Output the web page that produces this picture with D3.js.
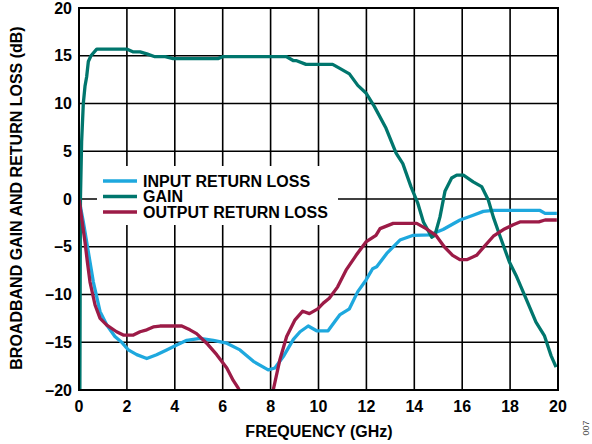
<!DOCTYPE html>
<html>
<head>
<meta charset="utf-8">
<script src="https://cdn.jsdelivr.net/npm/d3@7"></script>
<style>
  body { margin: 0; background: #fff; }
  text { font-family: "Liberation Sans", Arial, sans-serif; font-weight: bold; }
</style>
</head>
<body>
<div id="chart"></div>
<script>
// axis ticks
var xTicks = [0, 2, 4, 6, 8, 10, 12, 14, 16, 18, 20];
var yTicks = [20, 15, 10, 5, 0, -5, -10, -15, -20];

// series, [GHz, dB]
var inputReturnLoss = [[0,0],[0.18,-2.4],[0.46,-6.6],[0.6,-8.7],[0.88,-11.8],[1.16,-13.2],[1.5,-14.4],[1.78,-15.0],[2.06,-15.8],
  [2.41,-16.3],[2.83,-16.7],[3.24,-16.3],[3.66,-15.8],[4.08,-15.3],[4.5,-14.8],[5.05,-14.6],[5.61,-14.8],[6.17,-15.1],
  [6.72,-15.8],[7.28,-17.0],[7.9,-17.9],[8.18,-17.7],[8.53,-16.5],[8.95,-14.7],[9.23,-13.9],[9.57,-13.3],[9.92,-13.8],
  [10.4,-13.8],[10.69,-12.8],[10.9,-12.1],[11.29,-11.5],[11.64,-9.7],[11.98,-8.5],[12.26,-7.3],[12.43,-7.1],[12.85,-5.7],
  [13.4,-4.3],[13.96,-3.8],[14.66,-3.75],[15.2,-3.2],[15.91,-2.2],[16.46,-1.7],[16.88,-1.3],[17.3,-1.2],[19.25,-1.2],
  [19.46,-1.5],[19.95,-1.5]];

var gain = [[0.03,-25],[0.06,0],[0.11,6],[0.18,10],[0.25,11.8],[0.32,12.8],[0.39,14.4],[0.5,15.0],[0.74,15.7],[1.99,15.7],
  [2.27,15.4],[2.55,15.4],[2.83,15.2],[3.17,14.9],[3.6,14.9],[3.93,14.7],[5.8,14.7],[6.0,14.9],[8.67,14.9],[8.94,14.5],
  [9.06,14.5],[9.48,14.1],[10.59,14.1],[10.87,13.7],[11.29,13.1],[11.64,11.9],[11.98,11.1],[12.33,9.7],[12.82,7.4],
  [13.24,4.8],[13.52,3.7],[13.86,1.3],[14.14,-0.4],[14.38,-2.4],[14.73,-4.0],[14.86,-3.8],[15.07,-1.9],[15.28,0.8],
  [15.56,2.2],[15.77,2.5],[16.05,2.5],[16.46,1.8],[16.81,1.3],[17.09,-0.1],[17.3,-1.9],[17.58,-3.9],[17.97,-6.6],
  [18.25,-8.0],[18.66,-10.4],[19.08,-12.9],[19.43,-14.3],[19.71,-16.4],[19.92,-17.6]];

var outputReturnLoss = [[0,0],[0.25,-4.5],[0.35,-6.6],[0.46,-8.7],[0.67,-11.1],[0.88,-12.5],[1.16,-13.2],[1.57,-13.9],
  [1.85,-14.25],[2.27,-14.25],[2.55,-13.9],[2.83,-13.7],[3.1,-13.4],[3.38,-13.3],[4.29,-13.3],[4.63,-13.7],[4.91,-14.1],
  [5.33,-15.1],[5.75,-16.3],[6.17,-17.7],[6.44,-19.0],[6.65,-19.8],[7.0,-22],[7.5,-24],[8.0,-22],[8.11,-20],[8.39,-16.8],
  [8.67,-14.4],[9.02,-12.65],[9.34,-11.75],[9.62,-12.0],[9.97,-11.5],[10.2,-10.9],[10.45,-10.4],[10.8,-9.2],[11.15,-7.45],
  [11.57,-5.9],[11.98,-4.5],[12.4,-3.8],[12.57,-3.1],[13.12,-2.55],[14.1,-2.55],[14.49,-3.1],[14.9,-3.8],[15.25,-5.0],
  [15.6,-5.9],[15.9,-6.35],[16.19,-6.35],[16.6,-5.9],[16.88,-5.1],[17.3,-3.9],[17.72,-3.2],[18.13,-2.7],[18.41,-2.4],
  [19.2,-2.4],[19.46,-2.2],[19.95,-2.2]];

var seriesNames = ["INPUT RETURN LOSS", "GAIN", "OUTPUT RETURN LOSS"];
var seriesData = [inputReturnLoss, gain, outputReturnLoss];
var seriesColors = ["#1ea8de", "#00766d", "#9c1b47"];

var W = 592, H = 444;
var pl = 79, pr = 558, pt = 8, pb = 390;

var svg = d3.select("#chart").append("svg")
  .attr("width", W)
  .attr("height", H);

var x = d3.scaleLinear().domain([0, 20]).range([pl, pr]);
var y = d3.scaleLinear().domain([-20, 20]).range([pb, pt]);

// grid
svg.append("g").selectAll("line")
  .data(xTicks.slice(1, -1))
  .enter().append("line")
  .attr("x1", function(d){ return x(d); })
  .attr("x2", function(d){ return x(d); })
  .attr("y1", pt).attr("y2", pb)
  .attr("stroke", "#000").attr("stroke-width", 1.6);

svg.append("g").selectAll("line")
  .data(yTicks.slice(1, -1))
  .enter().append("line")
  .attr("y1", function(d){ return y(d); })
  .attr("y2", function(d){ return y(d); })
  .attr("x1", pl).attr("x2", pr)
  .attr("stroke", "#000").attr("stroke-width", 1.6);

// legend background hides the grid
svg.append("rect")
  .attr("x", 97).attr("y", 166)
  .attr("width", 241).attr("height", 59)
  .attr("fill", "#fff");

// curves
svg.append("clipPath").attr("id", "plotClip")
  .append("rect")
  .attr("x", pl).attr("y", pt)
  .attr("width", pr - pl).attr("height", pb - pt);

var line = d3.line()
  .x(function(d){ return x(d[0]); })
  .y(function(d){ return y(d[1]); });

svg.append("g").attr("clip-path", "url(#plotClip)")
  .selectAll("path")
  .data(seriesData)
  .enter().append("path")
  .attr("d", line)
  .attr("fill", "none")
  .attr("stroke", function(d, i){ return seriesColors[i]; })
  .attr("stroke-width", 3.3)
  .attr("stroke-linejoin", "round");

// frame
svg.append("rect")
  .attr("x", pl).attr("y", pt)
  .attr("width", pr - pl).attr("height", pb - pt)
  .attr("fill", "none")
  .attr("stroke", "#000").attr("stroke-width", 2);

// legend
var legend = svg.append("g").selectAll("g")
  .data(seriesNames)
  .enter().append("g")
  .attr("transform", function(d, i){ return "translate(0," + (181 + i * 15.5) + ")"; });

legend.append("line")
  .attr("x1", 103).attr("x2", 137)
  .attr("stroke", function(d, i){ return seriesColors[i]; })
  .attr("stroke-width", 3.5);

legend.append("text")
  .attr("x", 143).attr("y", 5.5)
  .attr("font-size", 16)
  .text(function(d){ return d; });

// tick labels
svg.append("g").selectAll("text")
  .data(xTicks)
  .enter().append("text")
  .attr("x", function(d){ return x(d); })
  .attr("y", 412)
  .attr("text-anchor", "middle")
  .attr("font-size", 16)
  .text(function(d){ return d; });

svg.append("g").selectAll("text")
  .data(yTicks)
  .enter().append("text")
  .attr("x", 72)
  .attr("y", function(d){ return y(d) + 5.5; })
  .attr("text-anchor", "end")
  .attr("font-size", 16)
  .text(function(d){ return d < 0 ? "\u2013" + Math.abs(d) : d; });

// axis titles
svg.append("text")
  .attr("x", 319).attr("y", 437)
  .attr("text-anchor", "middle")
  .attr("font-size", 16)
  .text("FREQUENCY (GHz)");

svg.append("text")
  .attr("transform", "translate(22,198) rotate(-90)")
  .attr("text-anchor", "middle")
  .attr("font-size", 16)
  .text("BROADBAND GAIN AND RETURN LOSS (dB)");

svg.append("text")
  .attr("transform", "translate(589,428) rotate(-90)")
  .attr("text-anchor", "middle")
  .attr("font-size", 9)
  .style("font-weight", "normal")
  .attr("fill", "#555")
  .text("007");
</script>
</body>
</html>
